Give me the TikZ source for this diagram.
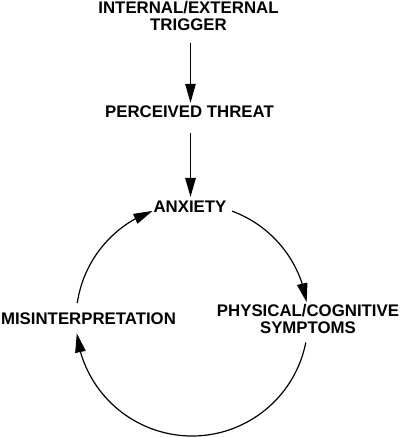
\documentclass[tikz,border=0pt]{standalone}
\usepackage{fontspec}
\setmainfont{Liberation Sans}
\usetikzlibrary{arrows.meta,bending}
\begin{document}
\begin{tikzpicture}[x=1pt,y=1pt,
  lbl/.style={inner sep=0pt,outer sep=0pt,align=center,anchor=base,
    font=\fontsize{16.8}{16.8}\selectfont\bfseries},
  arr/.style={line width=1.2pt,-{Triangle[length=19pt,width=10.5pt]}}]
\useasboundingbox[fill=white] (0,0) rectangle (400,438);
\node[lbl] (trig) at (188.5,407.5) {INTERNAL/EXTERNAL\\TRIGGER};
\node[lbl] (per) at (189.5,320.5) {PERCEIVED THREAT};
\node[lbl] (anx) at (190,225.5) {ANXIETY};
\node[lbl] (sym) at (308,104.5) {PHYSICAL/COGNITIVE\\SYMPTOMS};
\node[lbl] (mis) at (88.5,113) {MISINTERPRETATION};
\coordinate (c) at (192,118);
\draw[arr,shorten <=12pt,shorten >=3pt] ([xshift=2pt]trig.south) -- ([xshift=1pt]per.north);
\draw[arr,shorten <=15pt,shorten >=4pt] ([xshift=1pt]per.south) -- ([xshift=0.5pt]anx.north);
\draw[arr] (c) ++(69.8:116) arc[start angle=69.8,end angle=8.8,radius=116];
\draw[arr] (c) ++(-11.2:116) arc[start angle=-11.2,end angle=-173.4,radius=116];
\draw[arr] (c) ++(171.6:116) arc[start angle=171.6,end angle=109.9,radius=116];
\end{tikzpicture}
\end{document}
